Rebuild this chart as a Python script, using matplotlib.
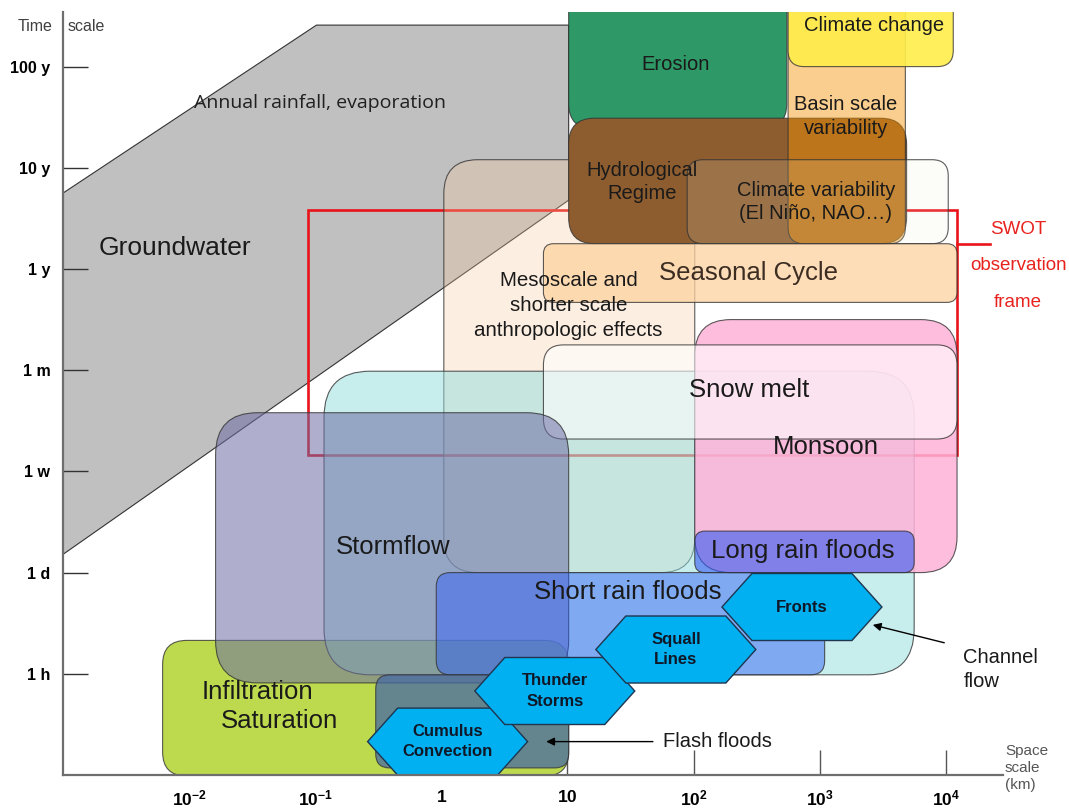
import numpy as np
import matplotlib.pyplot as plt
from matplotlib.patches import FancyBboxPatch, Polygon, Rectangle

plt.rcParams['font.family'] = ['Liberation Sans', 'DejaVu Sans']
plt.rcParams['mathtext.fontset'] = 'custom'
plt.rcParams['mathtext.rm'] = 'Liberation Sans'
plt.rcParams['mathtext.bf'] = 'Liberation Sans:bold'

# space axis in log10(km); time axis as level: 0 = 1 h ... 6 = 100 y
time_labels = ["1 h", "1 d", "1 w", "1 m", "1 y", "10 y", "100 y"]
space_ticks = [-2, -1, 0, 1, 2, 3, 4]
space_labels = [r"$\mathbf{10^{-2}}$", r"$\mathbf{10^{-1}}$", r"$\mathbf{1}$", r"$\mathbf{10}$",
                r"$\mathbf{10^{2}}$", r"$\mathbf{10^{3}}$", r"$\mathbf{10^{4}}$"]

# groundwater / annual rainfall band
band_x = [-3.0, -0.99, 1.01, 1.01, -3.0]
band_t = [4.75, 6.41, 6.41, 4.68, 1.18]

# process boxes (drawing order)
box_names = ["Mesoscale", "Erosion", "Hydrological Regime", "Basin scale variability", "Climate change",
             "Climate variability", "Seasonal Cycle", "Infiltration", "Channel flow",
             "Monsoon", "Snow melt", "Stormflow", "Short rain floods", "Long rain floods", "Flash floods"]
box_x0 = [0.02, 1.01, 1.01, 2.75, 2.75, 1.95, 0.81, -2.21, -0.93, 2.01, 0.81, -1.79, -0.04, 2.01, -0.52]
box_x1 = [2.01, 2.74, 3.69, 3.68, 4.06, 4.02, 4.09, 1.01, 3.75, 4.09, 4.09, 1.01, 3.04, 3.75, 1.01]
box_t0 = [1.00, 5.38, 4.25, 4.25, 6.00, 4.25, 3.67, -1.01, -0.01, 1.00, 2.32, -0.09, -0.01, 1.00, -0.93]
box_t1 = [5.08, 6.80, 5.49, 6.80, 6.80, 5.08, 4.25, 0.33, 2.99, 3.50, 3.25, 2.58, 1.00, 1.41, -0.01]

# meteorological forcing hexagons
hex_names = ["Cumulus\nConvection", "Thunder\nStorms", "Squall\nLines", "Fronts"]
hex_x = [0.05, 0.90, 1.86, 2.86]
hex_t = [-0.67, -0.17, 0.24, 0.66]

# SWOT observation frame
swot_x = [-1.06, 4.09]
swot_t = [2.16, 4.58]

# styles: facecolor, alpha, corner radius (px)
styles = {
    "Erosion": ("#2E9866", 1.0, 26),
    "Hydrological Regime": ("#8E5D2F", 1.0, 26),
    "Basin scale variability": ("#F59404", 0.45, 16),
    "Climate change": ("#FFEE4A", 0.9, 16),
    "Climate variability": ("#EEF0DA", 0.15, 16),
    "Mesoscale": ("#FAC8A0", 0.3, 34),
    "Seasonal Cycle": ("#FDD2A0", 0.75, 10),
    "Infiltration": ("#BDDA4E", 1.0, 24),
    "Channel flow": ("#91DDDD", 0.5, 46),
    "Monsoon": ("#FFB2D8", 0.85, 36),
    "Snow melt": ("#FFFFFF", 0.6, 20),
    "Stormflow": ("#6D6DA4", 0.55, 42),
    "Short rain floods": ("#285AFA", 0.45, 14),
    "Long rain floods": ("#345AF4", 0.6, 10),
    "Flash floods": ("#4669A5", 0.75, 14),
}

PX_X = 126.1   # pixels per decade
PX_T = 101.2   # pixels per time level
aspect = PX_X / PX_T

fig = plt.figure(figsize=(10.69, 8.08), dpi=100)
ax = fig.add_axes([63 / 1069, 33 / 808, 940 / 1069, 763 / 808])
ax.set_xlim(-3, -3 + 940 / PX_X)
ax.set_ylim(-1, -1 + 763 / PX_T)

edge = "#333333"
z = 1
ax.add_patch(Polygon(np.column_stack([band_x, band_t]), closed=True, facecolor="#C0C0C0",
                     edgecolor=edge, lw=0.8, zorder=z))
z += 1
ax.add_patch(Rectangle((swot_x[0], swot_t[0]), swot_x[1] - swot_x[0], swot_t[1] - swot_t[0],
                       fill=False, edgecolor="#E8141A", lw=1.9, zorder=z))

for name, x0, x1, t0, t1 in zip(box_names, box_x0, box_x1, box_t0, box_t1):
    z += 1
    fc, a, r = styles[name]
    ax.add_patch(FancyBboxPatch((x0, t0), x1 - x0, t1 - t0,
                                boxstyle=f"round,pad=0,rounding_size={r / PX_X}",
                                mutation_aspect=aspect, facecolor=fc, alpha=a,
                                edgecolor="none", zorder=z))
    ax.add_patch(FancyBboxPatch((x0, t0), x1 - x0, t1 - t0,
                                boxstyle=f"round,pad=0,rounding_size={r / PX_X}",
                                mutation_aspect=aspect, fill=False,
                                edgecolor=edge, lw=0.8, alpha=0.8, zorder=z))

hw, hh, inset = 80 / PX_X, 33.5 / PX_T, 30 / PX_X
for name, cx, ct in zip(hex_names, hex_x, hex_t):
    z += 1
    verts = [(cx - hw, ct), (cx - hw + inset, ct + hh), (cx + hw - inset, ct + hh),
             (cx + hw, ct), (cx + hw - inset, ct - hh), (cx - hw + inset, ct - hh)]
    ax.add_patch(Polygon(verts, closed=True, facecolor="#00B0F0", edgecolor="#1F3550",
                         lw=1.0, zorder=z))
    ax.text(cx, ct, name, ha="center", va="center", fontsize=12, fontweight="bold",
            color="#101828", linespacing=1.45, zorder=50)

# labels
tc = "#1A1A1A"
ax.text(-0.96, 5.64, "Annual rainfall, evaporation", ha="center", va="center", fontsize=14,
        family="Open Sans", color="#202020", zorder=50)
ax.text(-2.11, 4.21, "Groundwater", ha="center", va="center", fontsize=19, color=tc, zorder=50)
ax.text(1.86, 6.02, "Erosion", ha="center", va="center", fontsize=14.5, color=tc, zorder=50)
ax.text(3.43, 6.41, "Climate change", ha="center", va="center", fontsize=14.5, color=tc, zorder=50)
ax.text(3.21, 5.51, "Basin scale\nvariability", ha="center", va="center", fontsize=14.5,
        color=tc, linespacing=1.35, zorder=50)
ax.text(1.59, 4.86, "Hydrological\nRegime", ha="center", va="center", fontsize=14.5,
        color=tc, linespacing=1.25, zorder=50)
ax.text(2.97, 4.66, "Climate variability\n(El Niño, NAO…)", ha="center", va="center",
        fontsize=14.5, color=tc, linespacing=1.3, zorder=50)
ax.text(1.01, 3.64, "Mesoscale and\nshorter scale\nanthropologic effects", ha="center",
        va="center", fontsize=14.8, color=tc, linespacing=1.38, zorder=50)
ax.text(2.44, 3.96, "Seasonal Cycle", ha="center", va="center", fontsize=18.5,
        color="#3C2D23", zorder=50)
ax.text(2.44, 2.80, "Snow melt", ha="center", va="center", fontsize=18.5, color=tc, zorder=50)
ax.text(3.05, 2.24, "Monsoon", ha="center", va="center", fontsize=18.5, color=tc, zorder=50)
ax.text(2.87, 1.21, "Long rain floods", ha="center", va="center", fontsize=18.5, color=tc, zorder=50)
ax.text(1.48, 0.81, "Short rain floods", ha="center", va="center", fontsize=18.5, color=tc, zorder=50)
ax.text(-0.38, 1.25, "Stormflow", ha="center", va="center", fontsize=18.5, color=tc, zorder=50)
ax.text(-1.46, -0.18, "Infiltration", ha="center", va="center", fontsize=18.5, color=tc, zorder=50)
ax.text(-1.28, -0.47, "Saturation", ha="center", va="center", fontsize=18.5, color=tc, zorder=50)

ax.text(1.76, -0.67, "Flash floods", ha="left", va="center", fontsize=14.5, color=tc, zorder=50)
ax.annotate("", xy=(0.81, -0.67), xytext=(1.70, -0.67),
            arrowprops=dict(arrowstyle="-|>", color="black", lw=1.0, mutation_scale=12), zorder=50)
ax.text(4.14, 0.04, "Channel\nflow", ha="left", va="center", fontsize=14.5, color=tc,
        linespacing=1.35, zorder=50)
ax.annotate("", xy=(3.40, 0.49), xytext=(4.01, 0.30),
            arrowprops=dict(arrowstyle="-|>", color="black", lw=1.0, mutation_scale=12), zorder=50)

# SWOT label
ax.plot([swot_x[1], 4.354], [4.25, 4.25], color="#E8141A", lw=1.9, clip_on=False, zorder=50)
ax.text(4.575, 4.03, "SWOT\nobservation\nframe", ha="center", va="center", fontsize=13.5,
        color="#E8231E", linespacing=2.5, zorder=50)

# axes
for s in ["top", "right"]:
    ax.spines[s].set_visible(False)
for s in ["left", "bottom"]:
    ax.spines[s].set_color("#6E6E6E")
    ax.spines[s].set_linewidth(1.6)
    ax.spines[s].set_zorder(60)
ax.set_yticks(range(7), time_labels)
ax.set_xticks(space_ticks, space_labels)
ax.tick_params(axis="y", direction="in", length=18, width=1.0, color="#333333", pad=9,
               labelsize=11.5)
ax.tick_params(axis="x", direction="in", length=18, width=1.0, color="#555555", pad=10,
               labelsize=12.5)
for tl in ax.get_yticklabels():
    tl.set_fontweight("bold")

ax.text(-3.085, 6.40, "Time", ha="right", va="center", fontsize=11.5, color="#404040")
ax.text(-2.966, 6.40, "scale", ha="left", va="center", fontsize=11.5, color="#404040")
ax.text(4.47, -0.93, "Space\nscale\n(km)", ha="left", va="center", fontsize=11,
        color="#555555", linespacing=1.3)

fig.savefig("out.png", dpi=100)
